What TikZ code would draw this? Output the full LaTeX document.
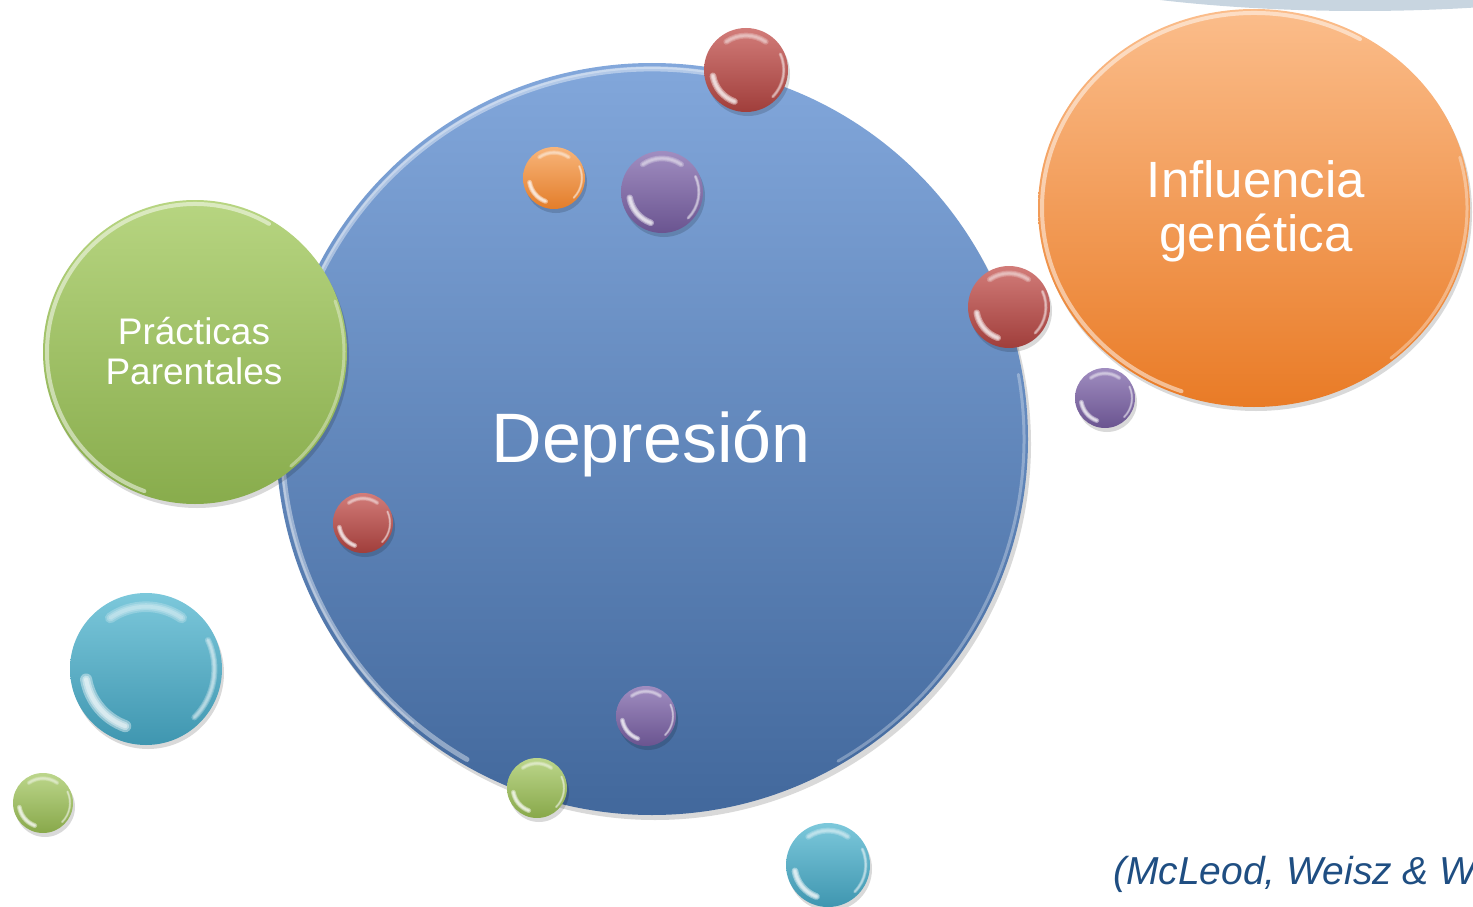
\documentclass[tikz,border=0pt]{standalone}
\usepackage{fontspec}
\setmainfont{Liberation Sans}
\usetikzlibrary{shapes.geometric}
\definecolor{blueT}{HTML}{82A7DB}
\definecolor{blueB}{HTML}{42689C}
\definecolor{greenT}{HTML}{B7D581}
\definecolor{greenB}{HTML}{88AC4C}
\definecolor{oranT}{HTML}{FBBD8B}
\definecolor{oranB}{HTML}{E97B26}
\definecolor{redT}{HTML}{D27C79}
\definecolor{redB}{HTML}{A03E3B}
\definecolor{purT}{HTML}{A08DC0}
\definecolor{purB}{HTML}{6A5490}
\definecolor{soT}{HTML}{F8B57A}
\definecolor{soB}{HTML}{E37D2A}
\definecolor{cyT}{HTML}{7CC8DB}
\definecolor{cyB}{HTML}{3F96B0}
\definecolor{sgT}{HTML}{BCD68B}
\definecolor{sgB}{HTML}{88A84A}
\definecolor{greyarc}{HTML}{C8D5E0}
\definecolor{citec}{HTML}{1F4E82}
% soft arc: node, start, end, radius factor, width factor, opacity, bubble radius
\newcommand\softarc[7]{%
  \foreach \k in {1,0.65,0.35}{%
    \draw[gloss, opacity=#6, line width={\k*#5*#7pt}] ([shift={(#2:{#4*#7pt})}]#1.center) arc[start angle=#2, end angle=#3, radius={#4*#7pt}];
  }%
}
\newcommand\mybubble[6]{%
  \fill[shadowc] (#2+2,#3+4) circle[radius=#4pt];
  \node[bubble, minimum size={2*#4pt}, top color=#5, bottom color=#6] (#1) at (#2,#3) {};
  \softarc{#1}{190}{250}{0.8}{0.16}{0.4}{#4}
  \softarc{#1}{55}{125}{0.82}{0.14}{0.22}{#4}
  \softarc{#1}{-45}{25}{0.9}{0.08}{0.25}{#4}
}
\begin{document}
\begin{tikzpicture}[x=1pt,y=-1pt,
  bubble/.style={circle, inner sep=0pt, outer sep=0pt, draw=none},
  shadowc/.style={fill=black, opacity=0.15},
  gloss/.style={draw=white, line cap=round},
  lbl/.style={text=white, inner sep=0pt}]
\useasboundingbox (0,0) rectangle (1473,907);
\clip (0,0) rectangle (1473,907);
% grey arc at top right
\fill[greyarc] (1360,-100) ellipse[x radius=460pt, y radius=111pt];
% big blue circle
\fill[shadowc] (655,444) circle[radius=376pt];
\node[bubble, minimum size=752pt, top color=blueT, bottom color=blueB] (dep) at (652,439) {};
\draw[gloss, opacity=0.4, line width=5pt] ([shift={(70:370pt)}]dep.center) arc[start angle=70, end angle=240, radius=370pt];
\draw[gloss, opacity=0.3, line width=2pt] ([shift={(75:371pt)}]dep.center) arc[start angle=75, end angle=230, radius=371pt];
\draw[gloss, opacity=0.3, line width=3pt] ([shift={(-60:372pt)}]dep.center) arc[start angle=-60, end angle=10, radius=372pt];
% green big circle
\fill[shadowc] (197,356) circle[radius=152pt];
\node[bubble, minimum size=304pt, top color=greenT, bottom color=greenB] (prac) at (195,352) {};
\draw[gloss, opacity=0.5, line width=4pt] ([shift={(60:148pt)}]prac.center) arc[start angle=60, end angle=250, radius=148pt];
\draw[gloss, opacity=0.35, line width=3pt] ([shift={(-50:149pt)}]prac.center) arc[start angle=-50, end angle=20, radius=149pt];
% orange big ellipse
\fill[shadowc] (1256,212) ellipse[x radius=216pt, y radius=199pt];
\node[ellipse, inner sep=0pt, outer sep=0pt, minimum width=432pt, minimum height=398pt, top color=oranT, bottom color=oranB] (infl) at (1254,208) {};
\draw[gloss, opacity=0.5, line width=4pt] ([shift={(60:212pt and 195pt)}]infl.center) arc[start angle=60, end angle=250, x radius=212pt, y radius=195pt];
\draw[gloss, opacity=0.35, line width=3pt] ([shift={(-50:213pt and 196pt)}]infl.center) arc[start angle=-50, end angle=15, x radius=213pt, y radius=196pt];
% labels
\node[lbl, anchor=base, font=\fontsize{70}{80}\selectfont] (tdep) at (651,462) {Depresión};
\node[lbl, anchor=base, font=\fontsize{37}{40}\selectfont] (tprac1) at (194,344) {Prácticas};
\node[lbl, anchor=base, font=\fontsize{37}{40}\selectfont] (tprac2) at (194,384) {Parentales};
\node[lbl, anchor=base, font=\fontsize{51}{54}\selectfont] (tinf1) at (1256,197) {Influencia};
\node[lbl, anchor=base, font=\fontsize{51}{54}\selectfont] (tinf2) at (1256,251) {genética};
% small bubbles
\mybubble{r1}{746}{70}{42}{redT}{redB}
\mybubble{o1}{554}{178}{31}{soT}{soB}
\mybubble{p1}{662}{192}{41}{purT}{purB}
\mybubble{r2}{1009}{307}{41}{redT}{redB}
\mybubble{p2}{1105}{398}{30}{purT}{purB}
\mybubble{r3}{363}{523}{30}{redT}{redB}
\mybubble{c1}{146}{669}{76}{cyT}{cyB}
\mybubble{g1}{43}{803}{30}{sgT}{sgB}
\mybubble{p3}{646}{716}{30}{purT}{purB}
\mybubble{g2}{537}{788}{30}{sgT}{sgB}
\mybubble{c2}{828}{865}{42}{cyT}{cyB}
% citation (cut at the right edge, as in the reference)
\node[anchor=base west, inner sep=0pt, text=citec, font=\itshape\fontsize{39}{42}\selectfont] (cite) at (1113,884) {(McLeod, Weisz \& W};
\end{tikzpicture}
\end{document}
